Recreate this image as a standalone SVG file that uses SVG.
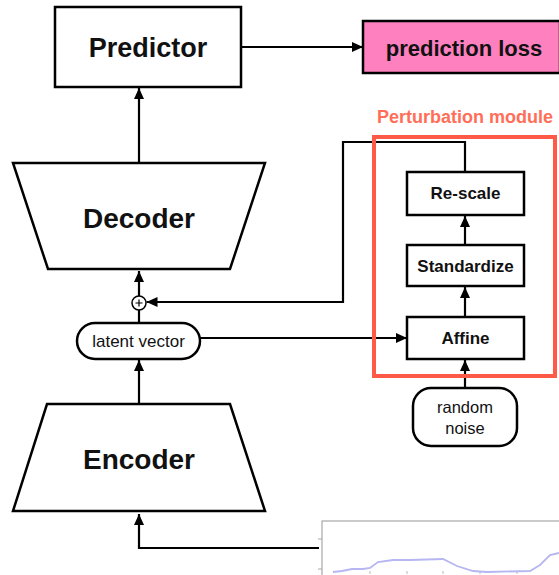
<svg xmlns="http://www.w3.org/2000/svg" width="559" height="575" viewBox="0 0 559 575">
  <defs>
    <marker id="arrow" viewBox="0 0 11 10" refX="11" refY="5" markerWidth="11" markerHeight="10" markerUnits="userSpaceOnUse" orient="auto">
      <path d="M0,0 L11,5 L0,10 z" fill="#000"/>
    </marker>
    <style>
      .box { fill: #fff; stroke: #000; stroke-width: 2.5; }
      .wire { fill: none; stroke: #000; stroke-width: 2.2; }
      .title { font-family: "Liberation Sans", Arial, sans-serif; font-weight: bold; fill: #111; text-anchor: middle; dominant-baseline: central; }
      .label { font-family: "Liberation Sans", Arial, sans-serif; fill: #111; text-anchor: middle; dominant-baseline: central; }
    </style>
  </defs>
  <rect width="559" height="575" fill="#fff"/>

  <!-- connectors -->
  <g id="connectors">
    <path class="wire" d="M241,47 H363" marker-end="url(#arrow)"/>
    <path class="wire" d="M139,163 V88" marker-end="url(#arrow)"/>
    <path class="wire" d="M139,296 V271" marker-end="url(#arrow)"/>
    <path class="wire" d="M139,323 V310"/>
    <path class="wire" d="M139,404 V360" marker-end="url(#arrow)"/>
    <path class="wire" d="M319,548 H139 V514" marker-end="url(#arrow)"/>
    <path class="wire" d="M200,338 H407" marker-end="url(#arrow)"/>
    <path class="wire" d="M465,172 V142 H343 V302 H146.5" marker-end="url(#arrow)"/>
    <path class="wire" d="M465,245 V216" marker-end="url(#arrow)"/>
    <path class="wire" d="M465,317 V287" marker-end="url(#arrow)"/>
    <path class="wire" d="M465,388 V360" marker-end="url(#arrow)"/>
  </g>

  <g id="predictor">
    <rect class="box" x="55" y="7" width="186" height="80"/>
    <text class="title" x="148" y="48" font-size="27">Predictor</text>
  </g>

  <g id="prediction-loss">
    <rect x="363" y="21" width="197" height="52" fill="#fe80bf" stroke="#000" stroke-width="2.5"/>
    <text class="title" x="464" y="48" font-size="22">prediction loss</text>
  </g>

  <g id="decoder">
    <path class="box" d="M13,163 H265 L230,269 H48 Z"/>
    <text class="title" x="139" y="218" font-size="28">Decoder</text>
  </g>

  <g id="sum">
    <circle cx="139" cy="303" r="7" fill="#fff" stroke="#000" stroke-width="1.5"/>
    <path d="M135.5,303 H142.5 M139,299.5 V306.5" stroke="#000" stroke-width="1.2"/>
  </g>

  <g id="latent-vector">
    <rect class="box" x="77" y="323" width="123" height="36" rx="18"/>
    <text class="label" x="138.5" y="341" font-size="17">latent vector</text>
  </g>

  <g id="encoder">
    <path class="box" d="M47,404 H230 L265,511 H13 Z"/>
    <text class="title" x="139" y="459" font-size="28">Encoder</text>
  </g>

  <g id="perturbation-module">
    <rect x="374" y="137" width="181" height="239" fill="none" stroke="#ff5a48" stroke-width="4"/>
    <text x="465" y="117" font-family="Liberation Sans, Arial, sans-serif" font-weight="bold" font-size="18" fill="#ff6e58" text-anchor="middle" dominant-baseline="central">Perturbation module</text>
  </g>

  <g id="rescale">
    <rect class="box" x="407" y="172" width="117" height="43"/>
    <text class="title" x="465.5" y="193.5" font-size="17">Re-scale</text>
  </g>

  <g id="standardize">
    <rect class="box" x="407" y="245" width="117" height="41"/>
    <text class="title" x="465.5" y="266" font-size="17">Standardize</text>
  </g>

  <g id="affine">
    <rect class="box" x="407" y="317" width="117" height="42"/>
    <text class="title" x="465.5" y="338.5" font-size="17">Affine</text>
  </g>

  <g id="random-noise">
    <rect class="box" x="413" y="388" width="104" height="58" rx="18"/>
    <text class="label" x="465" y="407" font-size="16.5">random</text>
    <text class="label" x="465" y="428" font-size="16.5">noise</text>
  </g>

  <!-- input time series plot -->
  <g id="input-series">
    <rect x="322" y="521" width="240" height="60" fill="#fff" stroke="#a8a8a8" stroke-width="1.2"/>
    <path d="M318,539 H322 M318,569 H322" stroke="#a8a8a8" stroke-width="1"/>
    <path d="M370,574 V571 M407,574 V571 M443,574 V571 M480,574 V571 M517,574 V571" stroke="#b8b8b8" stroke-width="1"/>
    <path d="M333,572 L342,571 L352,569 L363,569 L370,568 L378,562 L393,560 L410,560 L443,559 L457,566 L473,571 L487,572 L530,571 L540,565 L550,555 L559,553" fill="none" stroke="#b6b6f2" stroke-width="1.8"/>
  </g>
</svg>
